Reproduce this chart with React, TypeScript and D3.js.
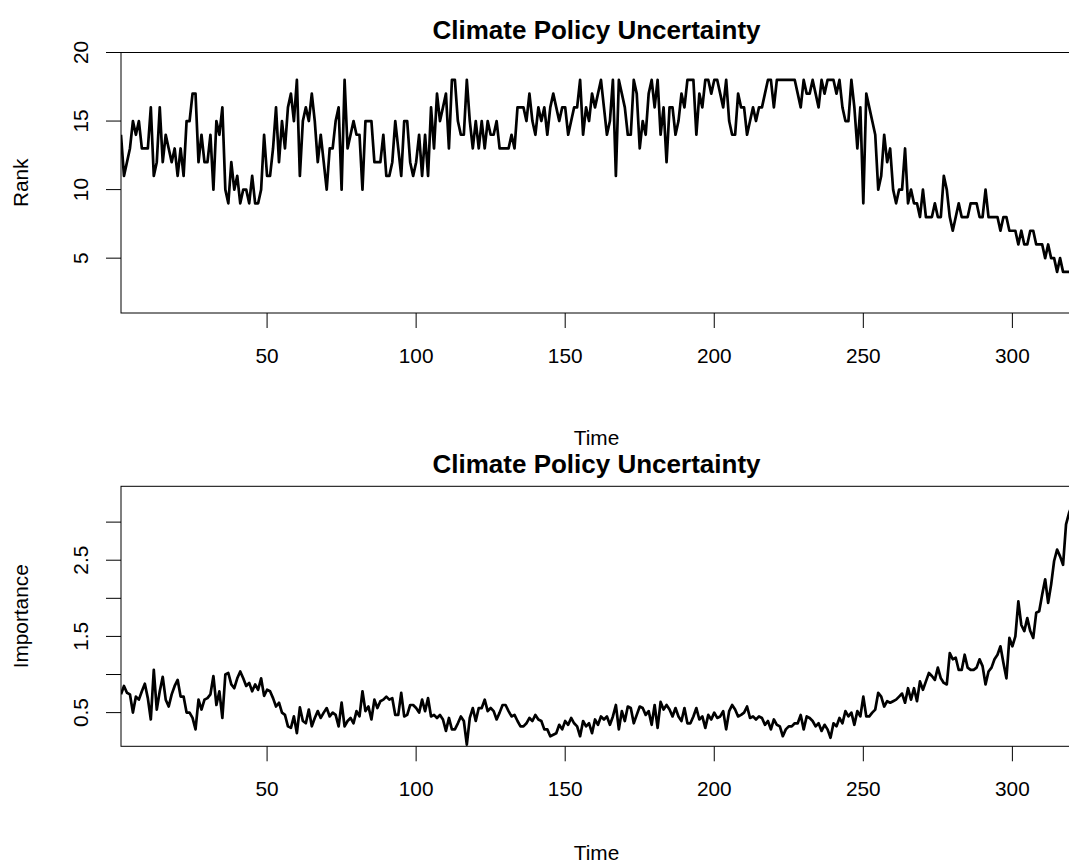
import React from "react";
import * as d3 from "d3";

// Monthly rank of the climate policy uncertainty topic (1 = most important)
const rankValues: number[] = [
  14, 11, 12, 13, 15, 14, 15, 13, 13, 13,
  16, 11, 12, 16, 12, 14, 13, 12, 13, 11,
  13, 11, 15, 15, 17, 17, 12, 14, 12, 12,
  14, 10, 15, 14, 16, 10, 9, 12, 10, 11,
  9, 10, 10, 9, 11, 9, 9, 10, 14, 11,
  11, 13, 16, 12, 15, 13, 16, 17, 15, 18,
  11, 15, 16, 15, 17, 15, 12, 14, 12, 10,
  13, 13, 15, 16, 10, 18, 13, 14, 15, 14,
  14, 10, 15, 15, 15, 12, 12, 12, 14, 11,
  11, 12, 15, 13, 11, 15, 15, 12, 11, 12,
  14, 11, 14, 11, 16, 13, 17, 15, 16, 17,
  13, 18, 18, 15, 14, 14, 18, 15, 13, 15,
  13, 15, 13, 15, 14, 14, 15, 13, 13, 13,
  13, 14, 13, 16, 16, 16, 15, 17, 15, 14,
  16, 15, 16, 14, 16, 17, 16, 15, 16, 16,
  14, 15, 16, 16, 18, 14, 16, 15, 17, 16,
  17, 18, 16, 14, 15, 18, 11, 18, 17, 16,
  14, 14, 18, 17, 13, 15, 14, 17, 18, 16,
  18, 14, 16, 12, 16, 16, 14, 15, 17, 16,
  18, 18, 18, 14, 17, 16, 18, 18, 17, 18,
  18, 17, 16, 18, 15, 14, 14, 17, 16, 16,
  14, 15, 16, 15, 16, 16, 17, 18, 18, 16,
  18, 18, 18, 18, 18, 18, 18, 17, 16, 18,
  17, 17, 18, 17, 16, 18, 17, 18, 18, 18,
  17, 18, 16, 15, 15, 18, 16, 13, 16, 9,
  17, 16, 15, 14, 10, 11, 14, 12, 13, 10,
  9, 10, 10, 13, 9, 10, 9, 9, 8, 10,
  8, 8, 8, 9, 8, 8, 11, 10, 8, 7,
  8, 9, 8, 8, 8, 9, 9, 9, 8, 8,
  10, 8, 8, 8, 8, 7, 8, 8, 7, 7,
  7, 6, 7, 6, 6, 7, 7, 6, 6, 6,
  5, 6, 5, 5, 4, 5, 4, 4, 4, 4,
];

// Monthly importance score of the same topic
const importanceValues: number[] = [
  0.74, 0.85, 0.76, 0.74, 0.5, 0.71, 0.67, 0.78, 0.88, 0.69,
  0.41, 1.06, 0.54, 0.78, 0.97, 0.67, 0.58, 0.74, 0.85, 0.93,
  0.71, 0.71, 0.5, 0.5, 0.43, 0.28, 0.67, 0.54, 0.67, 0.69,
  0.74, 0.98, 0.6, 0.78, 0.43, 1.0, 1.02, 0.87, 0.82, 0.95,
  1.04, 0.95, 0.85, 0.89, 0.78, 0.87, 0.8, 0.95, 0.72, 0.8,
  0.78, 0.69, 0.58, 0.63, 0.5, 0.47, 0.32, 0.3, 0.45, 0.23,
  0.57, 0.39, 0.36, 0.54, 0.32, 0.43, 0.52, 0.43, 0.5, 0.56,
  0.45, 0.5, 0.47, 0.32, 0.63, 0.32, 0.39, 0.43, 0.36, 0.52,
  0.45, 0.78, 0.52, 0.58, 0.41, 0.67, 0.56, 0.65, 0.67, 0.71,
  0.67, 0.69, 0.47, 0.47, 0.76, 0.45, 0.47, 0.6, 0.6, 0.56,
  0.5, 0.67, 0.52, 0.69, 0.45, 0.47, 0.43, 0.47, 0.41, 0.26,
  0.43, 0.28, 0.28, 0.36, 0.45, 0.39, 0.08, 0.43, 0.56, 0.39,
  0.56, 0.56, 0.67, 0.52, 0.56, 0.52, 0.41, 0.5, 0.6, 0.6,
  0.52, 0.45, 0.47, 0.39, 0.32, 0.32, 0.36, 0.43, 0.39, 0.47,
  0.41, 0.39, 0.28, 0.28, 0.19, 0.21, 0.23, 0.34, 0.28, 0.39,
  0.34, 0.43, 0.36, 0.32, 0.19, 0.39, 0.32, 0.36, 0.23, 0.41,
  0.34, 0.45, 0.41, 0.45, 0.34, 0.45, 0.6, 0.28, 0.52, 0.39,
  0.58, 0.56, 0.36, 0.47, 0.58, 0.56, 0.47, 0.52, 0.34, 0.6,
  0.3, 0.64, 0.54, 0.6, 0.54, 0.45, 0.56, 0.45, 0.39, 0.56,
  0.36, 0.36, 0.45, 0.56, 0.41, 0.45, 0.3, 0.47, 0.41, 0.5,
  0.43, 0.45, 0.52, 0.28, 0.52, 0.6, 0.54, 0.45, 0.47, 0.5,
  0.58, 0.43, 0.45, 0.41, 0.45, 0.43, 0.34, 0.39, 0.28, 0.41,
  0.34, 0.32, 0.19, 0.28, 0.32, 0.32, 0.36, 0.36, 0.47, 0.28,
  0.45, 0.43, 0.39, 0.32, 0.36, 0.26, 0.34, 0.28, 0.17, 0.36,
  0.32, 0.43, 0.36, 0.52, 0.45, 0.5, 0.34, 0.52, 0.45, 0.71,
  0.45, 0.45, 0.5, 0.54, 0.76, 0.71, 0.58, 0.65, 0.63, 0.65,
  0.67, 0.71, 0.75, 0.63, 0.82, 0.67, 0.82, 0.65, 0.91, 0.8,
  0.91, 1.02, 0.98, 0.93, 1.09, 0.95, 0.89, 0.87, 1.28, 1.2,
  1.22, 1.06, 1.06, 1.26, 1.09, 1.06, 1.06, 1.09, 1.2, 1.11,
  0.87, 1.04, 1.09, 1.2, 1.26, 1.37, 1.15, 0.95, 1.48, 1.37,
  1.5, 1.96, 1.65, 1.57, 1.74, 1.57, 1.48, 1.81, 1.83, 2.05,
  2.25, 1.94, 2.18, 2.49, 2.64, 2.55, 2.44, 2.97, 3.12, 3.22,
];

const timeTicks = [50, 100, 150, 200, 250, 300];
const rankTicks = [5, 10, 15, 20];
const rankTickLabels = ["5", "10", "15", "20"];
const importanceTicks = [0.5, 1.0, 1.5, 2.0, 2.5, 3.0];
const importanceTickLabels = ["0.5", "", "1.5", "", "2.5", ""];
const chartTitle = "Climate Policy Uncertainty";
const timeLabel = "Time";

const WIDTH = 1069;
const HEIGHT = 865;
const FONT = "'Liberation Sans', Arial, Helvetica, sans-serif";
const PLOT_LEFT = 121;
const PLOT_RIGHT = 1072;
const TICK_LEN = 15;

type PanelProps = {
  id: string;
  values: number[];
  yDomain: [number, number];
  yTicks: number[];
  yTickLabels: string[];
  yTitle: string;
  top: number;
  bottom: number;
  xTitleOffset: number;
};

function Panel({ id, values, yDomain, yTicks, yTickLabels, yTitle, top, bottom, xTitleOffset }: PanelProps) {
  const x = d3.scaleLinear().domain([1, values.length]).range([PLOT_LEFT, PLOT_RIGHT]);
  const y = d3.scaleLinear().domain(yDomain).range([bottom, top]);
  const line = d3
    .line<number>()
    .x((_, i) => x(i + 1))
    .y((d) => y(d));
  const midX = (PLOT_LEFT + PLOT_RIGHT) / 2;
  const midY = (top + bottom) / 2;
  const clipId = `clip-${id}`;

  return (
    <g>
      <defs>
        <clipPath id={clipId}>
          <rect x={PLOT_LEFT} y={top} width={PLOT_RIGHT - PLOT_LEFT} height={bottom - top} />
        </clipPath>
      </defs>
      <path
        d={line(values) ?? ""}
        fill="none"
        stroke="#000"
        strokeWidth={2.7}
        strokeLinejoin="round"
        clipPath={`url(#${clipId})`}
      />
      <rect
        x={PLOT_LEFT}
        y={top}
        width={PLOT_RIGHT - PLOT_LEFT}
        height={bottom - top}
        fill="none"
        stroke="#000"
        strokeWidth={1}
      />
      {/* x axis */}
      {timeTicks.map((t) => (
        <g key={`xt-${t}`}>
          <line x1={x(t)} x2={x(t)} y1={bottom} y2={bottom + TICK_LEN} stroke="#000" strokeWidth={1} />
          <text x={x(t)} y={bottom + 49.5} textAnchor="middle" fontSize={20.8} fontFamily={FONT}>
            {t}
          </text>
        </g>
      ))}
      {/* y axis */}
      {yTicks.map((t, i) => (
        <g key={`yt-${t}`}>
          <line x1={PLOT_LEFT - TICK_LEN} x2={PLOT_LEFT} y1={y(t)} y2={y(t)} stroke="#000" strokeWidth={1} />
          {yTickLabels[i] && (
            <text
              transform={`translate(${PLOT_LEFT - 33.5},${y(t)}) rotate(-90)`}
              textAnchor="middle"
              fontSize={20.8}
              fontFamily={FONT}
            >
              {yTickLabels[i]}
            </text>
          )}
        </g>
      ))}
      <text
        transform={`translate(27.5,${midY}) rotate(-90)`}
        textAnchor="middle"
        fontSize={20.8}
        fontFamily={FONT}
      >
        {yTitle}
      </text>
      <text x={midX} y={bottom + xTitleOffset} textAnchor="middle" fontSize={20.8} fontFamily={FONT}>
        {timeLabel}
      </text>
      <text
        x={midX}
        y={top - 13.5}
        textAnchor="middle"
        fontSize={26}
        fontWeight="bold"
        fontFamily={FONT}
      >
        {chartTitle}
      </text>
    </g>
  );
}

export default function App() {
  return (
    <svg
      width={WIDTH}
      height={HEIGHT}
      style={{ position: "absolute", left: 0, top: 0, background: "#fff" }}
    >
      <rect width={WIDTH} height={HEIGHT} fill="#fff" />
      <Panel
        id="rank"
        values={rankValues}
        yDomain={[1, 20]}
        yTicks={rankTicks}
        yTickLabels={rankTickLabels}
        yTitle="Rank"
        top={52.5}
        bottom={313}
        xTitleOffset={131.5}
      />
      <Panel
        id="importance"
        values={importanceValues}
        yDomain={[0.058, 3.47]}
        yTicks={importanceTicks}
        yTickLabels={importanceTickLabels}
        yTitle="Importance"
        top={486.3}
        bottom={746.3}
        xTitleOffset={113.5}
      />
    </svg>
  );
}
